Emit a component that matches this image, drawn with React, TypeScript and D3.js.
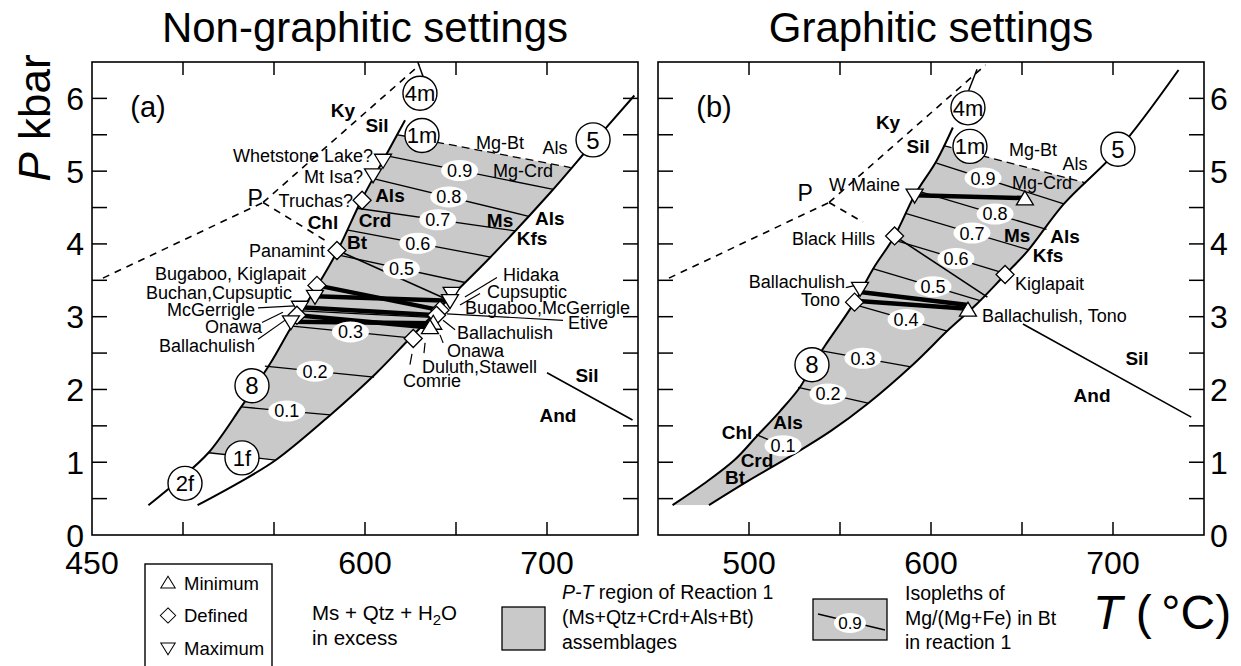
import * as d3 from "d3";

type Pt = [number, number];

const FONT = "'Liberation Sans', Arial, Helvetica, sans-serif";
const GREY = "#c9c9c9";

/* -----------------------------
    AXES
----------------------------- */
const T_TICKS = [500, 550, 600, 650, 700];
const P_TICKS = [0.5, 1, 1.5, 2, 2.5, 3, 3.5, 4, 4.5, 5, 5.5, 6];
const P_LABELS = [0, 1, 2, 3, 4, 5, 6];
const T_LABELS_A = [450, 600, 700];
const T_LABELS_B = [500, 600, 700];

/* -----------------------------
    SHARED REACTIONS (T °C, P kbar)
----------------------------- */
const kyAnd: Pt[] = [[456, 3.53], [544, 4.57]];
const kySil: Pt[] = [[544, 4.57], [630, 6.46]];
const isoValues = ["0.9", "0.8", "0.7", "0.6", "0.5", "0.4", "0.3", "0.2", "0.1"];

/* -----------------------------
    (a) NON-GRAPHITIC
----------------------------- */
const leftA: Pt[] = [[481, 0.41], [497, 0.74], [514, 1.13], [532, 1.76], [548, 2.36], [560, 2.88], [574, 3.43], [585, 3.91], [598, 4.6], [610, 5.15], [622, 5.7]];
const rightA: Pt[] = [[508, 0.41], [530, 0.71], [551, 1.03], [581, 1.65], [606, 2.22], [625, 2.71], [645, 3.22], [669, 3.82], [702, 4.71], [725, 5.38], [748, 6.04]];
const topA: Pt[] = [[618, 5.5], [713, 5.05]];
const bottomA: Pt[] = [[514, 1.13], [551, 1.03]];
const isoLeftA: Pt[] = [[610, 5.22], [604, 4.9], [595.6, 4.49], [590.7, 4.19], [585, 3.85], [565, 3.08], [560, 2.87], [545, 2.32], [532, 1.76]];
const isoRightA: Pt[] = [[703.5, 4.75], [690, 4.38], [682.5, 4.18], [669, 3.82], [655, 3.47], [636.5, 2.99], [625, 2.71], [605, 2.17], [581, 1.65]];
const isoLabelTA = [652, 646, 640, 629, 620, null, 592, 572.5, 557];
const andSilDashA: Pt[] = [[544, 4.57], [580, 4.02]];
const andSilA: Pt[][] = [[[585, 3.91], [643, 3.26]], [[700, 2.23], [747, 1.58]]];
const r4mA: Pt[] = [[631.9, 6.3], [629, 6.5]];
const circlesA: [string, number, number][] = [["4m", 630.2, 6.07], ["1m", 631.3, 5.49], ["5", 725.3, 5.43], ["8", 537.9, 2.05], ["1f", 532.4, 1.06], ["2f", 501.1, 0.71]];
const samplesA: [string, number, number][] = [
  ["down", 609.9, 5.15], ["down", 604.4, 4.95], ["diamond", 598.4, 4.6], ["diamond", 584.6, 3.91],
  ["diamond", 573.6, 3.43], ["down", 572.5, 3.28], ["down", 564.3, 3.13], ["diamond", 562.6, 3.02], ["down", 559.3, 2.93],
  ["down", 647.6, 3.32], ["down", 646.7, 3.22], ["diamond", 641.2, 3.09], ["diamond", 639.3, 3.02],
  ["up", 637.5, 2.91], ["up", 635.7, 2.85], ["diamond", 626.5, 2.7],
];
const thickA: Pt[][] = [
  [[573.6, 3.43], [641.2, 3.09]], [[572.5, 3.28], [646.7, 3.22]], [[564.3, 3.13], [639.3, 3.02]],
  [[562.6, 3.02], [635.7, 2.85]], [[559.3, 2.93], [637.5, 2.91]],
];
const leadersA: Pt[][] = [
  [[541.2, 3.12], [561.5, 3.15]], [[543.4, 2.92], [554.9, 3.06]], [[541.2, 2.69], [557.1, 2.97]],
  [[654.9, 3.27], [672.5, 3.54]], [[652.2, 3.16], [663.2, 3.32]], [[645, 3.04], [708.8, 2.95]],
  [[642.9, 2.95], [649.5, 2.82]], [[641.2, 2.75], [642.9, 2.64]], [[633, 2.64], [632.4, 2.5]], [[625.8, 2.49], [624.7, 2.34]],
];
const sitesA: [string, number, number, string][] = [
  ["Whetstone Lake?", 604.4, 5.22, "end"], ["Mt Isa?", 598.9, 4.92, "end"], ["Truchas?", 593.4, 4.6, "end"],
  ["Panamint", 578, 3.91, "end"], ["Bugaboo, Kiglapait", 567.6, 3.6, "end"], ["Buchan,Cupsuptic", 559.9, 3.33, "end"],
  ["McGerrigle", 539.6, 3.1, "end"], ["Onawa", 543.4, 2.86, "end"], ["Ballachulish", 539.6, 2.61, "end"],
  ["Hidaka", 675.8, 3.58, "start"], ["Cupsuptic", 667, 3.35, "start"], ["Bugaboo,McGerrigle", 654.9, 3.13, "start"],
  ["Etive", 711.5, 2.92, "start"], ["Ballachulish", 650.5, 2.78, "start"], ["Onawa", 645, 2.54, "start"],
  ["Duluth,Stawell", 631.3, 2.31, "start"], ["Comrie", 620.9, 2.12, "start"],
  ["Mg-Bt", 674.2, 5.4, "middle"], ["Als", 704.4, 5.32, "middle"], ["Mg-Crd", 686.8, 5.01, "middle"],
];
const phasesA: [string, number, number][] = [
  ["Ky", 587.9, 5.84], ["Sil", 606.6, 5.63], ["Als", 613.7, 4.67], ["Crd", 605.5, 4.33], ["Chl", 576.9, 4.3],
  ["Bt", 595.6, 4.02], ["Ms", 674.2, 4.33], ["Als", 701.6, 4.36], ["Kfs", 691.8, 4.08], ["Sil", 722, 2.2], ["And", 706, 1.65],
];

/* -----------------------------
    (b) GRAPHITIC
----------------------------- */
const leftB: Pt[] = [[458, 0.41], [475, 0.7], [492, 1.03], [504, 1.35], [517, 1.7], [528, 2.03], [535, 2.34], [542, 2.61], [558, 3.2], [568, 3.65], [580, 4.11], [591, 4.67], [603, 5.14], [612, 5.6]];
const rightB: Pt[] = [[478, 0.41], [500, 0.75], [524, 1.1], [545, 1.43], [565, 1.8], [590, 2.34], [610, 2.83], [625, 3.17], [640, 3.56], [653, 3.9], [673, 4.55], [703, 5.3], [736, 6.39]];
const topB: Pt[] = [[607, 5.35], [685, 4.84]];
const bottomB: Pt[] = [[450, 0.41], [750, 0.41]];
const isoLeftB: Pt[] = [[603, 5.11], [592.5, 4.73], [586, 4.42], [579, 4.06], [568, 3.66], [557.5, 3.17], [540, 2.53], [527, 2.03], [504, 1.38]];
const isoRightB: Pt[] = [[673, 4.55], [663.5, 4.2], [653.5, 3.92], [641.5, 3.59], [627, 3.22], [609, 2.8], [589, 2.31], [566, 1.81], [526, 1.15]];
const isoLabelTB = [628.6, 635.2, 622.5, 613.7, 601.1, 586.3, 562.6, 543.4, 518.7];
const andSilDashB: Pt[] = [[544, 4.57], [562.6, 4.3]];
const andSilB: Pt[][] = [[[580, 4.11], [631, 3.27]], [[650.5, 2.9], [743, 1.62]]];
const r4mB: Pt[] = [[619.8, 6.05], [625.3, 6.4]];
const circlesB: [string, number, number][] = [["4m", 620.3, 5.87], ["1m", 621.4, 5.34], ["5", 702.7, 5.3], ["8", 534.6, 2.34]];
const samplesB: [string, number, number][] = [
  ["down", 591, 4.67], ["up", 651.6, 4.62], ["diamond", 580, 4.11], ["down", 561, 3.39],
  ["diamond", 558, 3.2], ["up", 620.3, 3.09], ["diamond", 640.7, 3.58],
];
const thickB: Pt[][] = [[[591, 4.67], [651.6, 4.63]], [[561, 3.34], [620.3, 3.16]], [[558, 3.22], [620.3, 3.11]]];
const leadersB: Pt[][] = [[[553.2, 3.4], [558.5, 3.43]]];
const sitesB: [string, number, number, string][] = [
  ["W Maine", 544, 4.81, "start"], ["Black Hills", 523.6, 4.08, "start"], ["Ballachulish", 552.7, 3.48, "end"],
  ["Tono", 550, 3.23, "end"], ["Kiglapait", 646.2, 3.46, "start"], ["Ballachulish, Tono", 628, 3.02, "start"],
  ["Mg-Bt", 656, 5.3, "middle"], ["Als", 679.1, 5.11, "middle"], ["Mg-Crd", 661, 4.84, "middle"],
];
const phasesB: [string, number, number][] = [
  ["Ky", 576.4, 5.67], ["Sil", 592.9, 5.34], ["Ms", 647.3, 4.12], ["Als", 673.6, 4.11], ["Kfs", 664.3, 3.85],
  ["Sil", 713.2, 2.43], ["And", 688.5, 1.92], ["Chl", 493.4, 1.41], ["Als", 521.4, 1.55], ["Crd", 504.4, 1.03], ["Bt", 492.3, 0.8],
];

/* -----------------------------
    SCALES
----------------------------- */
const yScale = d3.scaleLinear().domain([0, 6.5]).range([535, 62]);
const xA = d3.scaleLinear().domain([450, 750]).range([92, 638]);
const xB = d3.scaleLinear().domain([450, 750]).range([658, 1204]);

function markerPath(kind: string) {
  if (kind === "diamond") return "M0,-9L9,0L0,9L-9,0Z";
  if (kind === "up") return "M0,-8L8.5,6L-8.5,6Z";
  return "M0,8L8.5,-6L-8.5,-6Z";
}

const lerp = (a: Pt, b: Pt, t: number): Pt => [t, a[1] + ((b[1] - a[1]) * (t - a[0])) / (b[0] - a[0])];

interface PanelProps {
  id: string;
  tag: string;
  x: d3.ScaleLinear<number, number>;
  left: Pt[];
  right: Pt[];
  top: Pt[];
  bottom: Pt[];
  drawBottom: boolean;
  isoLeft: Pt[];
  isoRight: Pt[];
  isoLabelT: (number | null)[];
  andSilDash: Pt[];
  andSil: Pt[][];
  r4m: Pt[];
  circles: [string, number, number][];
  samples: [string, number, number][];
  thick: Pt[][];
  leaders: Pt[][];
  sites: [string, number, number, string][];
  phases: [string, number, number][];
  pLabel: Pt;
  tLabels: number[];
  pSide: "left" | "right";
}

function Panel(p: PanelProps) {
  const x = p.x;
  const y = yScale;
  const line = d3.line<Pt>().x((d) => x(d[0])).y((d) => y(d[1]));
  const curve = d3.line<Pt>().x((d) => x(d[0])).y((d) => y(d[1])).curve(d3.curveCatmullRom.alpha(0.5));
  const fill = curve(p.left)! + curve([...p.right].reverse())!.replace(/^M/, "L") + "Z";
  const clip = line([
    lerp(p.bottom[0], p.bottom[1], 400),
    lerp(p.bottom[0], p.bottom[1], 800),
    lerp(p.top[0], p.top[1], 800),
    lerp(p.top[0], p.top[1], 400),
  ])! + "Z";
  const [x0, x1] = x.range();
  const [yb, yt] = y.range();

  return (
    <g>
      <defs>
        <clipPath id={`clip-${p.id}`}>
          <path d={clip} />
        </clipPath>
      </defs>
      {/* grey reaction field */}
      <path d={fill} fill={GREY} stroke="none" clipPath={`url(#clip-${p.id})`} />

      {/* Al2SiO5 */}
      <path d={line(kyAnd)!} fill="none" stroke="#000" strokeWidth={1.6} strokeDasharray="7,6" />
      <path d={line(kySil)!} fill="none" stroke="#000" strokeWidth={1.6} strokeDasharray="7,6" />
      <path d={line(p.andSilDash)!} fill="none" stroke="#000" strokeWidth={1.6} strokeDasharray="7,6" />
      {p.andSil.map((s, i) => (
        <path key={i} d={line(s)!} fill="none" stroke="#000" strokeWidth={1.6} />
      ))}
      <path d={line(p.r4m)!} fill="none" stroke="#000" strokeWidth={1.5} />

      {/* isopleths */}
      {p.isoLeft.map((a, i) => (
        <path key={i} d={line([a, p.isoRight[i]])!} fill="none" stroke="#000" strokeWidth={1.3} />
      ))}
      {p.drawBottom && <path d={line(p.bottom)!} fill="none" stroke="#000" strokeWidth={1.3} />}
      <path d={line(p.top)!} fill="none" stroke="#000" strokeWidth={1.3} strokeDasharray="8,5" />

      {/* reaction boundaries */}
      <path d={curve(p.left)!} fill="none" stroke="#000" strokeWidth={2} />
      <path d={curve(p.right)!} fill="none" stroke="#000" strokeWidth={2} />

      {/* sample P-T lines */}
      {p.thick.map((s, i) => (
        <path key={i} d={line(s)!} fill="none" stroke="#000" strokeWidth={4.5} />
      ))}
      {p.leaders.map((s, i) => (
        <path key={i} d={line(s)!} fill="none" stroke="#000" strokeWidth={1.2} />
      ))}

      {/* isopleth labels */}
      {p.isoLabelT.map((t, i) => {
        if (t === null) return null;
        const q = lerp(p.isoLeft[i], p.isoRight[i], t);
        return (
          <g key={i} transform={`translate(${x(q[0])},${y(q[1])})`}>
            <ellipse rx={18.5} ry={10.5} fill="#fff" />
            <text textAnchor="middle" dy="0.36em" fontSize={18}>
              {isoValues[i]}
            </text>
          </g>
        );
      })}

      {/* reaction numbers */}
      {p.circles.map(([s, t, pp], i) => (
        <g key={i} transform={`translate(${x(t)},${y(pp)})`}>
          <circle r={17} fill="#fff" stroke="#000" strokeWidth={1.4} />
          <text textAnchor="middle" dy="0.36em" fontSize={s.length > 1 ? 22 : 24}>
            {s}
          </text>
        </g>
      ))}

      {/* samples */}
      {p.samples.map(([k, t, pp], i) => (
        <path key={i} d={markerPath(k)} transform={`translate(${x(t)},${y(pp)})`} fill="#fff" stroke="#000" strokeWidth={1.3} />
      ))}

      {p.sites.map(([s, t, pp, a], i) => (
        <text key={i} x={x(t)} y={y(pp)} dy="0.36em" textAnchor={a} fontSize={18}>
          {s}
        </text>
      ))}
      {p.phases.map(([s, t, pp], i) => (
        <text key={i} x={x(t)} y={y(pp)} dy="0.36em" textAnchor="middle" fontSize={19} fontWeight="bold">
          {s}
        </text>
      ))}
      <text x={x(p.pLabel[0])} y={y(p.pLabel[1])} dy="0.36em" textAnchor="middle" fontSize={23}>
        P
      </text>
      <text x={x(471)} y={y(5.74)} fontSize={29}>
        {p.tag}
      </text>

      {/* frame and ticks */}
      <rect x={x0} y={yt} width={x1 - x0} height={yb - yt} fill="none" stroke="#000" strokeWidth={1.6} />
      {T_TICKS.map((t) => (
        <g key={t}>
          <line x1={x(t)} x2={x(t)} y1={yb} y2={yb - 13} stroke="#000" strokeWidth={1.5} />
          <line x1={x(t)} x2={x(t)} y1={yt} y2={yt + 13} stroke="#000" strokeWidth={1.5} />
        </g>
      ))}
      {P_TICKS.map((v) => (
        <g key={v}>
          <line x1={x0} x2={x0 + 15} y1={y(v)} y2={y(v)} stroke="#000" strokeWidth={1.5} />
          <line x1={x1} x2={x1 - 15} y1={y(v)} y2={y(v)} stroke="#000" strokeWidth={1.5} />
        </g>
      ))}
      {p.tLabels.map((t) => (
        <text key={t} x={x(t)} y={574} textAnchor="middle" fontSize={32}>
          {t}
        </text>
      ))}
      {P_LABELS.map((v) => (
        <text
          key={v}
          x={p.pSide === "left" ? x0 - 8 : x1 + 6}
          y={y(v)}
          dy="0.36em"
          textAnchor={p.pSide === "left" ? "end" : "start"}
          fontSize={32}
        >
          {v}
        </text>
      ))}
    </g>
  );
}

function Legend() {
  const items: [string, string][] = [["up", "Minimum"], ["diamond", "Defined"], ["down", "Maximum"]];
  return (
    <g>
      <rect x={145} y={564} width={127} height={110} fill="none" stroke="#000" strokeWidth={1.4} />
      {items.map(([k, s], i) => (
        <g key={k} transform={`translate(168,${583 + i * 32.5})`}>
          <path d={markerPath(k)} fill="#fff" stroke="#000" strokeWidth={1.2} transform="scale(0.85)" />
          <text x={16} dy="0.36em" fontSize={18.5}>
            {s}
          </text>
        </g>
      ))}
      <text x={312} y={620} fontSize={20.5}>
        Ms + Qtz + H<tspan fontSize={15} dy={5}>2</tspan>
        <tspan dy={-5}>O</tspan>
      </text>
      <text x={312} y={645} fontSize={20.5}>
        in excess
      </text>

      <rect x={502} y={607} width={43} height={43} fill={GREY} stroke="#000" strokeWidth={1.3} />
      <text x={562} y={599} fontSize={19.5}>
        <tspan fontStyle="italic">P-T</tspan> region of Reaction 1
      </text>
      <text x={562} y={624} fontSize={19.5}>
        (Ms+Qtz+Crd+Als+Bt)
      </text>
      <text x={562} y={649} fontSize={19.5}>
        assemblages
      </text>

      <rect x={813} y={599} width={74} height={41} fill={GREY} stroke="#000" strokeWidth={1.3} />
      <line x1={818} y1={614} x2={885} y2={630} stroke="#000" strokeWidth={1.3} />
      <ellipse cx={850} cy={623} rx={16} ry={10} fill="#fff" />
      <text x={850} y={623} dy="0.36em" textAnchor="middle" fontSize={17}>
        0.9
      </text>
      <text x={905} y={600} fontSize={19.5}>
        Isopleths of
      </text>
      <text x={905} y={625} fontSize={19.5}>
        Mg/(Mg+Fe) in Bt
      </text>
      <text x={905} y={649} fontSize={19.5}>
        in reaction 1
      </text>

      <text x={1093} y={629} fontSize={48}>
        <tspan fontStyle="italic">T</tspan> ({"\u2009"}°C)
      </text>
    </g>
  );
}

export default function App() {
  return (
    <svg
      width={1241}
      height={666}
      viewBox="0 0 1241 666"
      style={{ position: "absolute", left: 0, top: 0, background: "#fff" }}
      fontFamily={FONT}
    >
      <text x={365} y={42} textAnchor="middle" fontSize={42}>
        Non-graphitic settings
      </text>
      <text x={931} y={42} textAnchor="middle" fontSize={42}>
        Graphitic settings
      </text>
      <text transform="translate(50,118) rotate(-90)" textAnchor="middle" fontSize={44}>
        <tspan fontStyle="italic">P</tspan> kbar
      </text>

      <Panel
        id="a"
        tag="(a)"
        x={xA}
        left={leftA}
        right={rightA}
        top={topA}
        bottom={bottomA}
        drawBottom={true}
        isoLeft={isoLeftA}
        isoRight={isoRightA}
        isoLabelT={isoLabelTA}
        andSilDash={andSilDashA}
        andSil={andSilA}
        r4m={r4mA}
        circles={circlesA}
        samples={samplesA}
        thick={thickA}
        leaders={leadersA}
        sites={sitesA}
        phases={phasesA}
        pLabel={[539.6, 4.64]}
        tLabels={T_LABELS_A}
        pSide="left"
      />
      <Panel
        id="b"
        tag="(b)"
        x={xB}
        left={leftB}
        right={rightB}
        top={topB}
        bottom={bottomB}
        drawBottom={false}
        isoLeft={isoLeftB}
        isoRight={isoRightB}
        isoLabelT={isoLabelTB}
        andSilDash={andSilDashB}
        andSil={andSilB}
        r4m={r4mB}
        circles={circlesB}
        samples={samplesB}
        thick={thickB}
        leaders={leadersB}
        sites={sitesB}
        phases={phasesB}
        pLabel={[530.8, 4.7]}
        tLabels={T_LABELS_B}
        pSide="right"
      />
      <Legend />
    </svg>
  );
}
